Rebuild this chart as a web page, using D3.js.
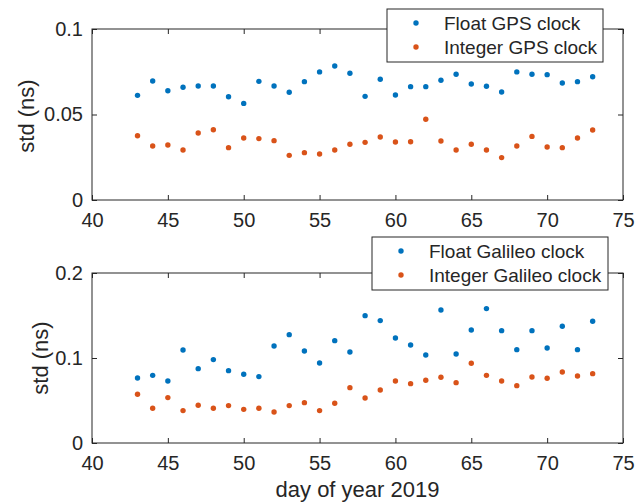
<!DOCTYPE html>
<html>
<head>
<meta charset="utf-8">
<script src="https://cdn.jsdelivr.net/npm/d3@7"></script>
<style>
  body { margin: 0; background: #fff; }
  svg { display: block; font-family: "Liberation Sans", Arial, sans-serif; }
</style>
</head>
<body>
<svg id="chart" width="644" height="503"></svg>
<script>
// days 43..73
var days = [43, 44, 45, 46, 47, 48, 49, 50, 51, 52, 53, 54, 55, 56, 57, 58,
            59, 60, 61, 62, 63, 64, 65, 66, 67, 68, 69, 70, 71, 72, 73];

var floatGps = [0.0612, 0.0696, 0.0639, 0.0659, 0.0667, 0.0667, 0.0604, 0.0565,
                0.0694, 0.0667, 0.0630, 0.0692, 0.0749, 0.0784, 0.0741, 0.0606,
                0.0706, 0.0614, 0.0663, 0.0663, 0.0700, 0.0735, 0.0678, 0.0665,
                0.0632, 0.0749, 0.0735, 0.0733, 0.0684, 0.0692, 0.0721];
var intGps = [0.0376, 0.0316, 0.0322, 0.0292, 0.0392, 0.0411, 0.0306, 0.0363,
              0.0359, 0.0347, 0.0261, 0.0277, 0.0269, 0.0292, 0.0326, 0.0337,
              0.0368, 0.0339, 0.0341, 0.0472, 0.0345, 0.0292, 0.0326, 0.0292,
              0.0248, 0.0316, 0.0372, 0.0310, 0.0306, 0.0363, 0.0409];

var floatGal = [0.0765, 0.0796, 0.0730, 0.1094, 0.0875, 0.0981, 0.0851, 0.0808,
                0.0781, 0.1141, 0.1275, 0.1083, 0.0941, 0.1204, 0.1071, 0.1498,
                0.1440, 0.1236, 0.1153, 0.1036, 0.1565, 0.1047, 0.1330, 0.1581,
                0.1322, 0.1098, 0.1322, 0.1118, 0.1373, 0.1098, 0.1432];
var intGal = [0.0573, 0.0408, 0.0534, 0.0381, 0.0444, 0.0408, 0.0440, 0.0396,
              0.0408, 0.0365, 0.0440, 0.0475, 0.0381, 0.0467, 0.0651, 0.0530,
              0.0624, 0.0730, 0.0698, 0.0738, 0.0773, 0.0710, 0.0938, 0.0796,
              0.0730, 0.0675, 0.0777, 0.0761, 0.0836, 0.0789, 0.0816];

var xTicks = [40, 45, 50, 55, 60, 65, 70, 75];
var yTicksTop = [0, 0.05, 0.1];
var yTicksBottom = [0, 0.1, 0.2];

var BLUE = '#0072BD', ORANGE = '#D95319', AXIS = '#262626';
var FONT = '"Liberation Sans", Arial, sans-serif';

var svg = d3.select('#chart');

var x = d3.scaleLinear().domain([40, 75]).range([92, 623]);

function panel(opts) {
    var y = d3.scaleLinear().domain(opts.ydomain).range([opts.bottom, opts.top]);
    var g = svg.append('g');

    // box
    g.append('rect')
        .attr('x', x.range()[0]).attr('y', opts.top)
        .attr('width', x.range()[1] - x.range()[0])
        .attr('height', opts.bottom - opts.top)
        .attr('fill', 'none').attr('stroke', AXIS).attr('stroke-width', 1);

    var bottomAxis = g.append('g')
        .attr('transform', 'translate(0,' + opts.bottom + ')')
        .call(d3.axisBottom(x).tickValues(xTicks).tickSize(-5).tickSizeOuter(0).tickPadding(13));
    var topAxis = g.append('g')
        .attr('transform', 'translate(0,' + opts.top + ')')
        .call(d3.axisTop(x).tickValues(xTicks).tickSize(-5).tickSizeOuter(0).tickFormat(''));
    var leftAxis = g.append('g')
        .attr('transform', 'translate(' + x.range()[0] + ',0)')
        .call(d3.axisLeft(y).tickValues(opts.yticks).tickSize(-5).tickSizeOuter(0)
            .tickPadding(9).tickFormat(function(d) { return String(d); }));
    var rightAxis = g.append('g')
        .attr('transform', 'translate(' + x.range()[1] + ',0)')
        .call(d3.axisRight(y).tickValues(opts.yticks).tickSize(-5).tickSizeOuter(0).tickFormat(''));

    [bottomAxis, topAxis, leftAxis, rightAxis].forEach(function(a) {
        a.select('.domain').remove();
        a.selectAll('line').attr('stroke', AXIS);
        a.selectAll('text').attr('fill', AXIS).style('font-size', '20px')
            .style('font-family', FONT);
    });

    // y label
    g.append('text')
        .attr('transform', 'translate(' + opts.ylabelX + ',' + opts.ylabelY + ') rotate(-90)')
        .attr('text-anchor', 'middle')
        .attr('dy', '0.35em')
        .attr('fill', AXIS)
        .style('font-size', '22px')
        .text('std (ns)');

    // points
    opts.series.forEach(function(s) {
        g.append('g').selectAll('circle')
            .data(days)
            .join('circle')
            .attr('cx', function(d) { return x(d); })
            .attr('cy', function(d, i) { return y(s.values[i]); })
            .attr('r', 2.7)
            .attr('fill', s.color);
    });

    // legend
    var lg = opts.legend;
    g.append('rect')
        .attr('x', lg.x).attr('y', lg.y)
        .attr('width', lg.w).attr('height', lg.h)
        .attr('fill', '#fff').attr('stroke', AXIS).attr('stroke-width', 1);
    opts.series.forEach(function(s, i) {
        var cy = lg.y + 14 + i * 24;
        g.append('circle').attr('cx', lg.x + 29).attr('cy', cy).attr('r', 2.7).attr('fill', s.color);
        g.append('text')
            .attr('x', lg.x + 57).attr('y', cy).attr('dy', '0.35em')
            .attr('fill', AXIS).style('font-size', '19px')
            .text(s.name);
    });
}

panel({
    top: 29, bottom: 200,
    ydomain: [0, 0.1], yticks: yTicksTop,
    ylabelX: 26, ylabelY: 116,
    series: [
        {name: 'Float GPS clock', values: floatGps, color: BLUE},
        {name: 'Integer GPS clock', values: intGps, color: ORANGE}
    ],
    legend: {x: 387, y: 9, w: 216, h: 53}
});

panel({
    top: 273, bottom: 443,
    ydomain: [0, 0.2], yticks: yTicksBottom,
    ylabelX: 40, ylabelY: 358,
    series: [
        {name: 'Float Galileo clock', values: floatGal, color: BLUE},
        {name: 'Integer Galileo clock', values: intGal, color: ORANGE}
    ],
    legend: {x: 372, y: 237, w: 236, h: 53}
});

// x label
svg.append('text')
    .attr('x', (x.range()[0] + x.range()[1]) / 2)
    .attr('y', 497)
    .attr('text-anchor', 'middle')
    .attr('fill', AXIS)
    .style('font-size', '22px')
    .text('day of year 2019');
</script>
</body>
</html>
